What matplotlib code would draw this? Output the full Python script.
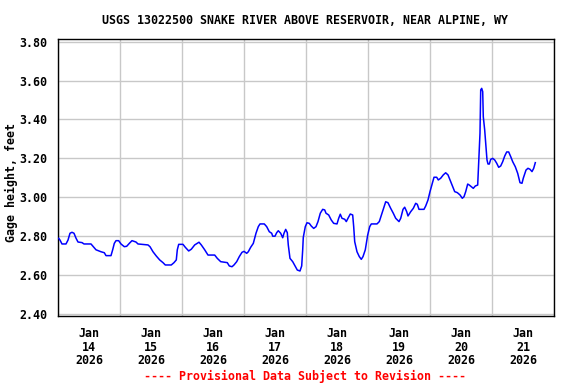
import numpy as np
import pandas as pd
import matplotlib
matplotlib.use("Agg")
import matplotlib.pyplot as plt
import matplotlib.dates as mdates

# Gage height readings, hours after 2026-01-14 00:00
hours = [
    0.14, 0.66, 1.43, 2.98, 3.76, 4.53, 5.30, 6.08, 6.85, 7.63, 9.18, 9.95,
    12.66, 13.31, 14.60, 16.53, 17.81, 18.47, 20.40, 21.05, 21.68, 22.34,
    23.37, 24.27, 25.55, 26.47, 27.49, 28.53, 30.07,
    30.85, 34.72, 35.50, 36.66, 37.94, 39.25, 40.53, 41.42, 43.74, 44.79,
    45.68, 46.07, 46.61, 48.27, 49.16, 50.48, 51.49, 52.80, 54.47, 55.36,
    56.67, 57.95, 60.54, 61.55, 62.87,
    65.42, 66.20, 67.24, 68.01, 69.06, 70.07, 71.11, 71.89, 72.93, 73.55,
    74.48, 75.49, 76.53, 77.42, 78.08, 79.74, 80.67, 81.68, 82.61, 83.00,
    83.89, 84.54, 85.16, 86.09, 86.87, 87.37, 88.03, 88.65, 89.03, 89.69,
    90.74, 91.63, 92.52, 93.56, 94.22, 94.61, 94.84,
    95.61, 96.27, 97.16, 97.94, 98.87, 99.76, 100.53, 101.42, 102.35, 103.13,
    103.63, 104.67, 105.68, 106.61, 107.89, 108.54, 109.16, 109.82, 110.87,
    111.49, 112.14, 113.03, 113.96, 114.35, 114.74, 115.63, 116.52, 117.29,
    117.95, 118.84, 119.77, 120.55, 121.17, 123.37, 124.26, 125.31,
    126.08, 126.74, 127.63, 128.68, 129.68, 130.61, 131.89, 132.55, 133.44,
    134.09, 134.87, 135.37, 136.42, 137.42, 138.35, 138.97, 139.63, 141.56,
    142.22, 143.11, 143.89, 144.78, 145.44, 146.48, 147.10, 148.03, 149.03,
    149.96, 150.86, 151.63, 152.52, 153.45, 154.45, 155.50, 156.39, 157.05,
    157.71,
    158.48, 159.10, 160.15, 160.65, 161.42, 162.35, 162.74, 163.24, 163.52,
    163.90, 164.29, 164.52, 165.06, 165.57, 165.95, 166.34, 166.84, 167.39,
    168.16, 168.93, 169.71, 170.48, 171.26, 172.03, 172.81, 173.58, 174.35,
    175.13, 175.90, 176.91, 177.84, 178.73, 179.50, 180.00, 181.05, 181.82,
    182.60, 183.37, 184.03, 184.65,
]
gage_ft = [
    2.789, 2.78, 2.76, 2.76, 2.78, 2.815, 2.82, 2.815, 2.79, 2.77, 2.767, 2.76,
    2.76, 2.75, 2.73, 2.72, 2.715, 2.70, 2.70, 2.73, 2.763, 2.777,
    2.777, 2.76, 2.746, 2.748, 2.763, 2.777, 2.77,
    2.76, 2.755, 2.746, 2.72, 2.698, 2.678, 2.664, 2.652, 2.652, 2.664,
    2.678, 2.73, 2.758, 2.758, 2.743, 2.724, 2.733, 2.755, 2.769, 2.755,
    2.73, 2.703, 2.703, 2.686, 2.669,
    2.664, 2.647, 2.643, 2.652, 2.669, 2.695, 2.717, 2.722, 2.712, 2.72,
    2.743, 2.763, 2.815, 2.849, 2.863, 2.863, 2.849, 2.823, 2.815, 2.80,
    2.80, 2.818, 2.828, 2.815, 2.792, 2.815, 2.835, 2.818, 2.755, 2.686,
    2.669, 2.647, 2.626, 2.621, 2.647, 2.73, 2.794,
    2.849, 2.869, 2.866, 2.852, 2.84, 2.849, 2.875, 2.918, 2.938, 2.935,
    2.918, 2.909, 2.883, 2.866, 2.863, 2.892, 2.913, 2.892, 2.887,
    2.875, 2.892, 2.914, 2.909, 2.849, 2.772, 2.72, 2.695, 2.681,
    2.695, 2.73, 2.806, 2.849, 2.863, 2.863, 2.875, 2.918,
    2.949, 2.977, 2.972, 2.943, 2.918, 2.892, 2.875, 2.892, 2.938,
    2.949, 2.926, 2.904, 2.926, 2.943, 2.969, 2.964, 2.938, 2.938,
    2.955, 2.986, 3.029, 3.072, 3.103, 3.103, 3.089, 3.098, 3.115,
    3.126, 3.115, 3.089, 3.058, 3.029, 3.024, 3.012, 2.995, 3.003,
    3.029,
    3.068, 3.063, 3.051, 3.046, 3.058, 3.063, 3.183, 3.329, 3.552,
    3.56, 3.543, 3.414, 3.346, 3.26, 3.192, 3.171, 3.171, 3.195,
    3.20, 3.192, 3.175, 3.154, 3.161, 3.183, 3.212, 3.233, 3.233,
    3.209, 3.183, 3.157, 3.123, 3.075, 3.072, 3.098, 3.14, 3.149,
    3.144, 3.132, 3.149, 3.178,
]
yticks = [2.40, 2.60, 2.80, 3.00, 3.20, 3.40, 3.60, 3.80]
start = pd.Timestamp("2026-01-14")
days = pd.date_range(start, periods=9, freq="D")

title = "USGS 13022500 SNAKE RIVER ABOVE RESERVOIR, NEAR ALPINE, WY"
footnote = "---- Provisional Data Subject to Revision ----"

plt.rcParams["font.family"] = ["DejaVu Sans Mono"]
plt.rcParams["font.weight"] = "bold"
fs = 8.4

fig = plt.figure(figsize=(5.76, 3.84), dpi=100)
ax = fig.add_axes([0.1012, 0.1771, 0.8611, 0.7206])

times = start + pd.to_timedelta(np.array(hours), unit="h")
ax.plot(times, gage_ft, color="#0000FF", linewidth=1.1, zorder=3)

ax.set_xlim(days[0], days[-1])
ax.set_ylim(2.3897, 3.8123)

# gridlines at midnight, labels at noon
ax.set_xticks(days)
ax.set_xticklabels([])
noons = days[:-1] + pd.Timedelta(hours=12)
ax.set_xticks(noons, minor=True)
ax.set_xticklabels([d.strftime("%b\n%d\n%Y") for d in noons[:]], minor=True)
ax.set_yticks(yticks)
ax.set_yticklabels([f"{v:.2f}" for v in yticks])

ax.tick_params(axis="both", which="both", length=0, labelsize=fs)
ax.tick_params(axis="y", pad=8)
ax.tick_params(axis="x", which="minor", pad=8)
for lbl in ax.get_xticklabels(minor=True):
    lbl.set_linespacing(1.05)
    lbl.set_fontweight("bold")
for lbl in ax.get_yticklabels():
    lbl.set_fontweight("bold")

ax.grid(True, which="major", color="#C8C8C8", linewidth=1.0)
ax.set_axisbelow(True)
for sp in ax.spines.values():
    sp.set_color("black")
    sp.set_linewidth(1.0)

fig.text(0.5295, 1 - 20 / 384, title, ha="center", va="center",
         fontsize=fs, fontweight="bold")
fig.text(11 / 576, 1 - 183 / 384, "Gage height, feet", rotation=90,
         ha="center", va="center", fontsize=fs, fontweight="bold")
fig.text(0.5295, 1 - 376 / 384, footnote, ha="center", va="center",
         fontsize=fs, fontweight="bold", color="#FF0000")

fig.savefig("out.png", dpi=100)
